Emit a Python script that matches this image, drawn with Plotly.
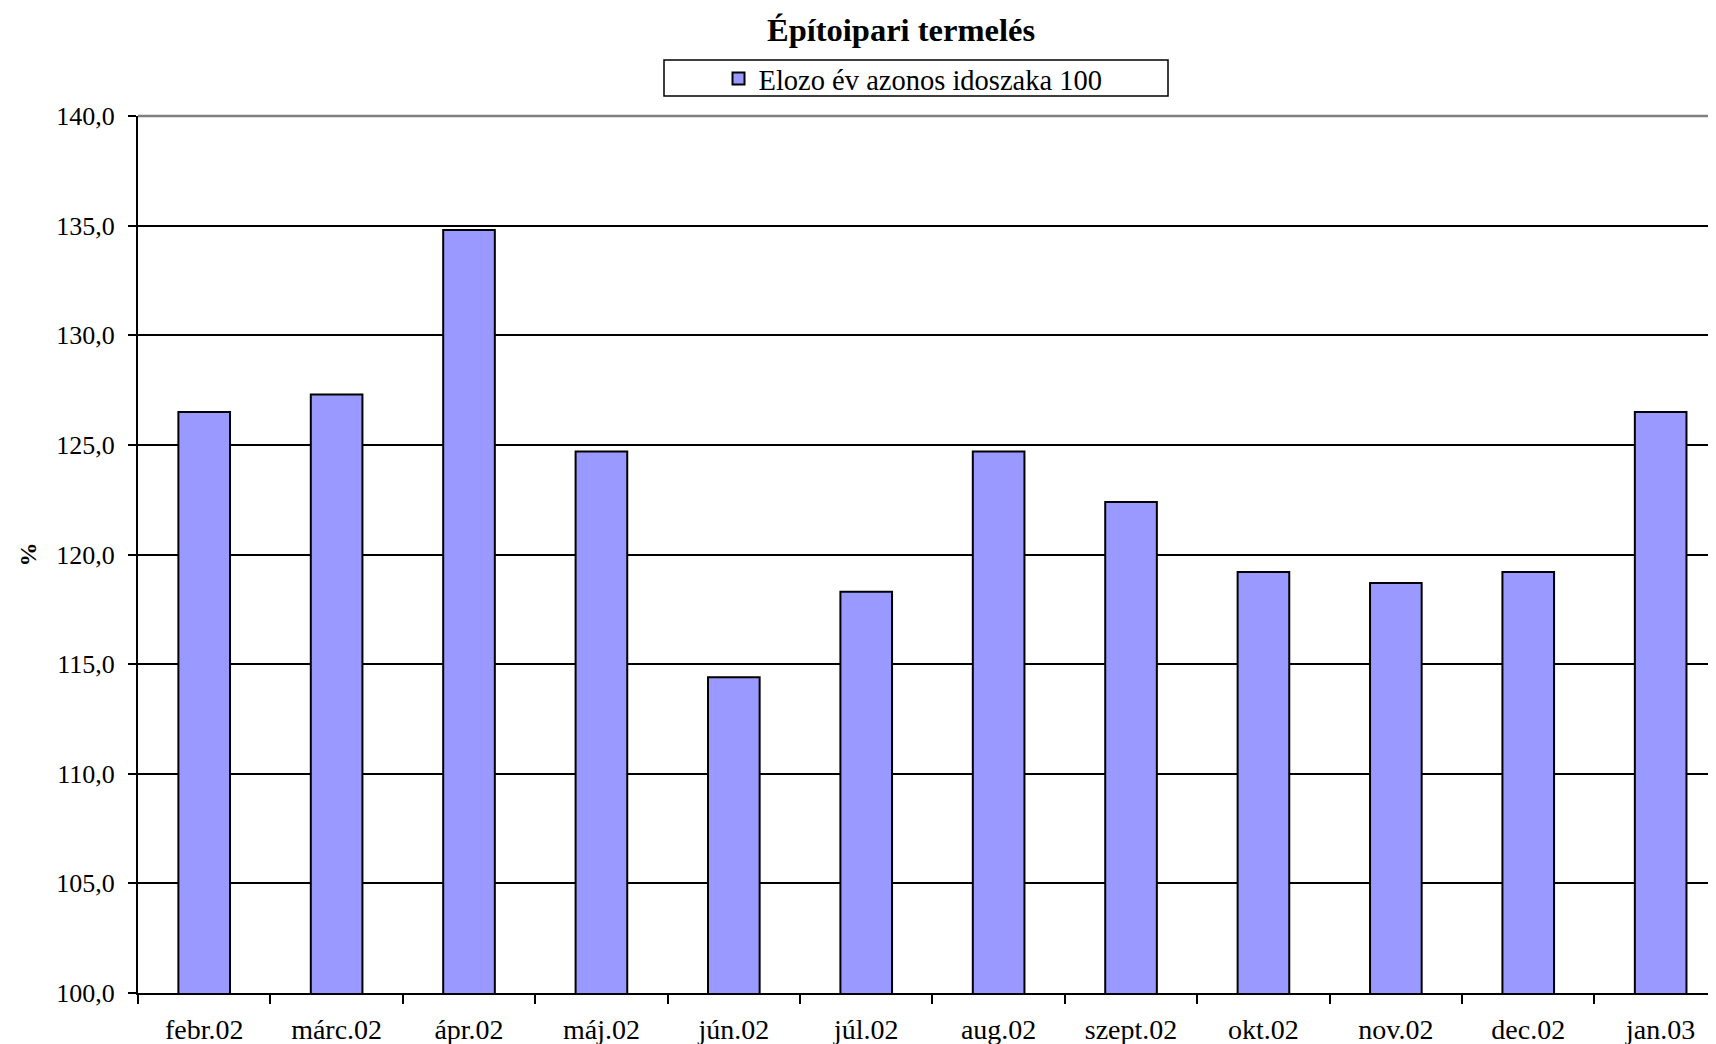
import plotly.graph_objects as go

categories = ["febr.02", "márc.02", "ápr.02", "máj.02", "jún.02", "júl.02",
              "aug.02", "szept.02", "okt.02", "nov.02", "dec.02", "jan.03"]
values = [126.5, 127.3, 134.8, 124.7, 114.4, 118.3, 124.7, 122.4, 119.2, 118.7, 119.2, 126.5]
series_name = "Elozo év azonos idoszaka 100"
title_text = "Építoipari termelés"
y_title = "%"
y_ticks = [100, 105, 110, 115, 120, 125, 130, 135, 140]

FONT = "Liberation Serif, Times New Roman, serif"
OFF = 8  # default page body margin
W, H = 1716 - OFF, 1044 - OFF
ML, MR, MT = 138 - OFF, 0, 116 - OFF
MB = H - (993 - OFF)
PW, PH = W - ML - MR, H - MT - MB

fig = go.Figure()
fig.add_trace(go.Bar(
    x=categories, y=values, name=series_name,
    marker=dict(color="#9999FF", line=dict(color="black", width=2)),
    width=0.39,
    showlegend=True,
))

fig.update_layout(
    width=W, height=H,
    margin=dict(l=ML, r=MR, t=MT, b=MB, pad=0, autoexpand=False),
    paper_bgcolor="white", plot_bgcolor="white",
    font=dict(family=FONT, size=26, color="black"),
    separators=", ",
    title=dict(text="<b>" + title_text + "</b>", x=(901 - OFF) / W, xanchor="center",
               y=1 - (30 - OFF) / H, yanchor="middle", yref="container",
               font=dict(family=FONT, size=32.5, color="black")),
    legend=dict(orientation="h", x=(913 - OFF) / W, xanchor="center", y=1 - (79 - OFF) / H, yanchor="middle",
                xref="container", yref="container",
                bgcolor="rgba(0,0,0,0)", borderwidth=0,
                font=dict(family=FONT, size=28.5, color="black"),
                itemsizing="constant"),
    showlegend=True,
)

fig.update_xaxes(
    type="category", range=[-0.5, 11.418], automargin=False,
    showline=True, linecolor="black", linewidth=2,
    ticks="outside", tickson="boundaries", ticklen=9, tickwidth=2, tickcolor="black",
    showgrid=False, ticklabelstandoff=10,
    tickfont=dict(family=FONT, size=28, color="black"),
)
fig.update_yaxes(
    range=[100, 140], tickvals=y_ticks, tickformat=".1f", automargin=False,
    showline=True, linecolor="black", linewidth=2,
    ticks="outside", ticklen=8, tickwidth=2, tickcolor="black",
    showgrid=True, gridcolor="black", gridwidth=1.5,
    zeroline=False, ticklabelstandoff=8,
    title=dict(text="<b>" + y_title + "</b>", font=dict(family=FONT, size=24, color="black"), standoff=13),
    tickfont=dict(family=FONT, size=26, color="black"),
)

# gray top border of plot area
fig.add_shape(type="line", xref="paper", yref="paper", x0=0, x1=1, y0=1, y1=1,
              line=dict(color="#808080", width=2.5), layer="above")
# legend frame
fig.add_shape(type="rect", xref="paper", yref="paper",
              x0=(664 - OFF - ML) / PW, x1=(1168 - OFF - ML) / PW,
              y0=(H - MB - (96 - OFF)) / PH, y1=(H - MB - (60 - OFF)) / PH,
              line=dict(color="black", width=1.5), fillcolor="rgba(0,0,0,0)", layer="above")

fig.write_html("out.html")
